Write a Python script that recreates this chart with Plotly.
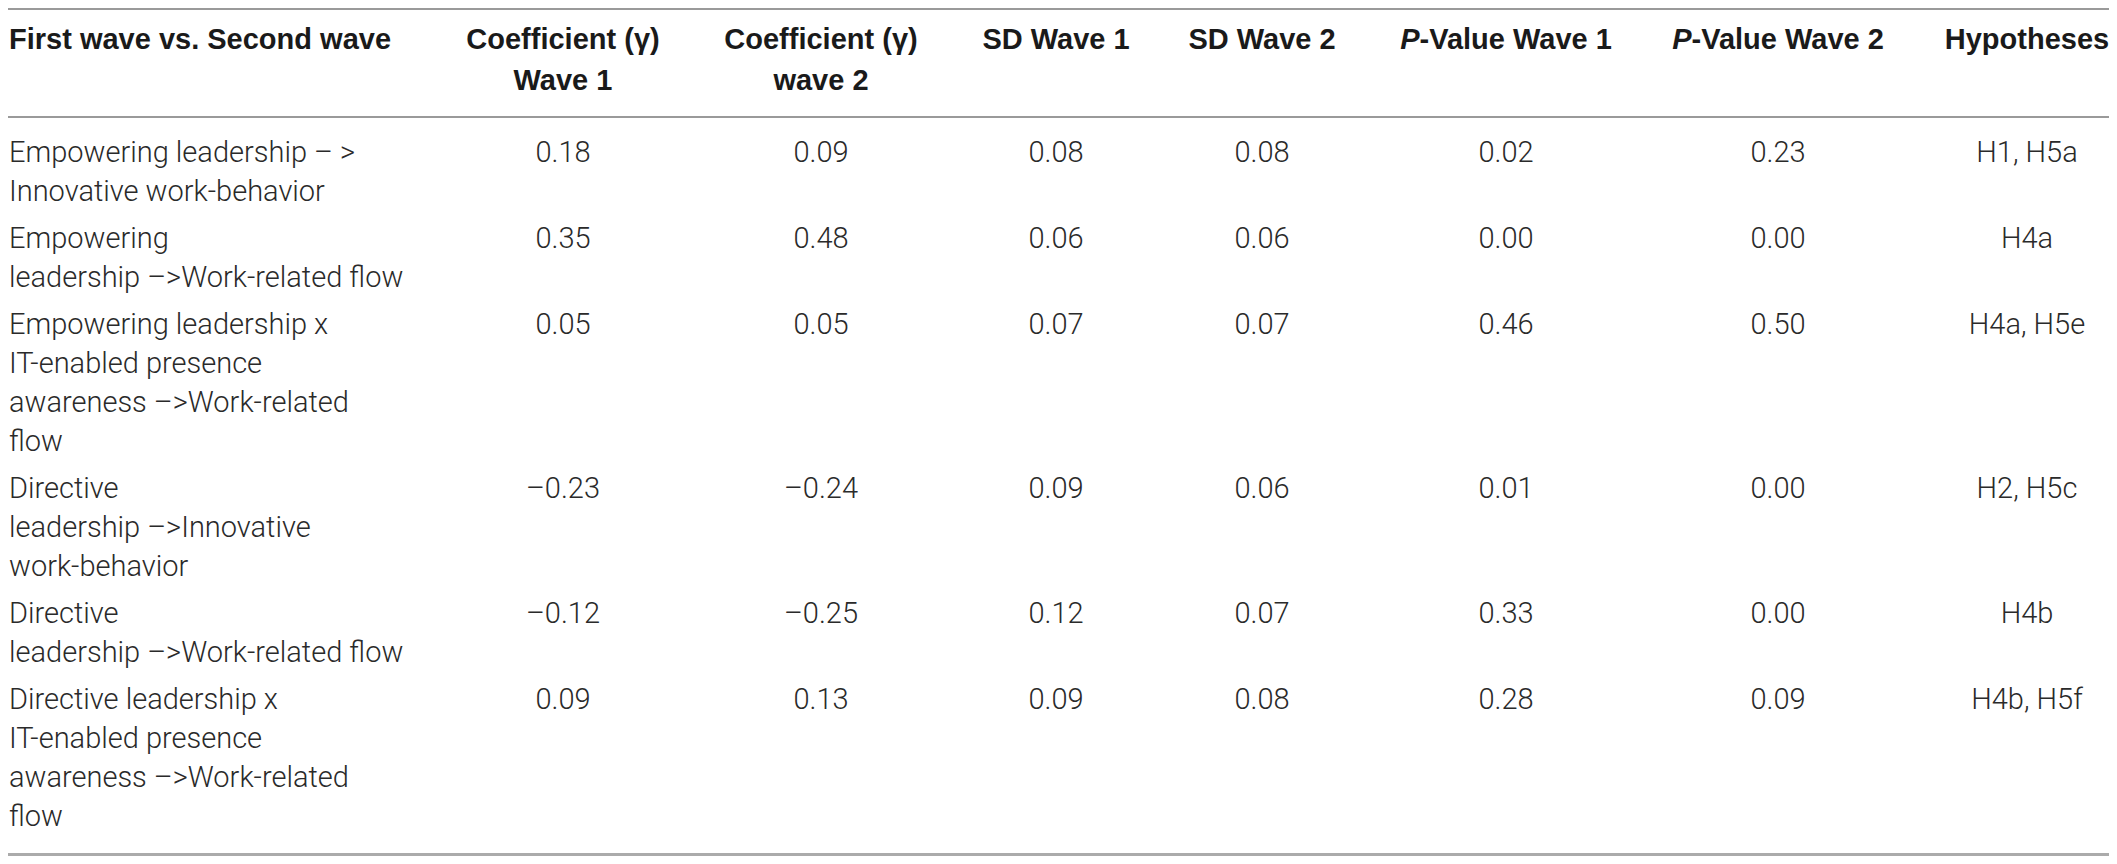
import plotly.graph_objects as go

# table content
header_line1 = ["First wave vs. Second wave", "Coefficient (γ)", "Coefficient (γ)", "SD Wave 1",
                "SD Wave 2", "<i>P</i>-Value Wave 1", "<i>P</i>-Value Wave 2", "Hypotheses"]
header_line2 = ["", "Wave 1", "wave 2", "", "", "", "", ""]

paths = [
    "Empowering leadership – ><br>Innovative work-behavior",
    "Empowering<br>leadership –>Work-related flow",
    "Empowering leadership x<br>IT-enabled presence<br>awareness –>Work-related<br>flow",
    "Directive<br>leadership –>Innovative<br>work-behavior",
    "Directive<br>leadership –>Work-related flow",
    "Directive leadership x<br>IT-enabled presence<br>awareness –>Work-related<br>flow",
]
coef_wave1 = [0.18, 0.35, 0.05, -0.23, -0.12, 0.09]
coef_wave2 = [0.09, 0.48, 0.05, -0.24, -0.25, 0.13]
sd_wave1 = [0.08, 0.06, 0.07, 0.09, 0.12, 0.09]
sd_wave2 = [0.08, 0.06, 0.07, 0.06, 0.07, 0.08]
p_wave1 = [0.02, 0.00, 0.46, 0.01, 0.33, 0.28]
p_wave2 = [0.23, 0.00, 0.50, 0.00, 0.00, 0.09]
hypotheses = ["H1, H5a", "H4a", "H4a, H5e", "H2, H5c", "H4b", "H4b, H5f"]

# the page body keeps an 8px margin, so the figure is 16px smaller than the
# window; the axes are set so one data unit = one figure pixel
W, H = 2117 - 16, 864 - 16

col_x = [1, 555, 813, 1048, 1254, 1498, 1770, 2019]  # column anchors
head_y = [34, 75]
rule_y = [1, 109, 846.5]
first_row_y = 147
pitch = 39   # line pitch inside a cell
row_gap = 8  # extra space between rows

body_font = dict(family="Roboto, Liberation Sans, Arial, sans-serif", size=29, color="#2a2a2a", weight=300)
head_font = dict(family="Liberation Sans, Arial, sans-serif", size=29, color="#1a1a1a")


def fmt(v):
    s = "{:.2f}".format(abs(v))
    return ("–" + s) if v < 0 else s


# y of the first line of every row, from the number of lines in the first column
row_y = []
y = first_row_y
for p in paths:
    row_y.append(y)
    y += len(p.split("<br>")) * pitch + row_gap

fig = go.Figure()

# header
for i, (t1, t2) in enumerate(zip(header_line1, header_line2)):
    xs, ys, ts = [col_x[i]], [head_y[0]], ["<b>" + t1 + "</b>"]
    if t2:
        xs.append(col_x[i]); ys.append(head_y[1]); ts.append("<b>" + t2 + "</b>")
    fig.add_trace(go.Scatter(x=xs, y=ys, text=ts, mode="text", cliponaxis=False,
                             textposition="middle right" if i == 0 else "middle center",
                             textfont=head_font, hoverinfo="skip", showlegend=False))

# first column, one point per text line
xs, ys, ts = [], [], []
for p, y0 in zip(paths, row_y):
    for k, line in enumerate(p.split("<br>")):
        xs.append(col_x[0]); ys.append(y0 + k * pitch); ts.append(line)
fig.add_trace(go.Scatter(x=xs, y=ys, text=ts, mode="text", textposition="middle right",
                         cliponaxis=False, textfont=body_font, hoverinfo="skip", showlegend=False))

# value columns
columns = [
    [fmt(v) for v in coef_wave1],
    [fmt(v) for v in coef_wave2],
    [fmt(v) for v in sd_wave1],
    [fmt(v) for v in sd_wave2],
    [fmt(v) for v in p_wave1],
    [fmt(v) for v in p_wave2],
    hypotheses,
]
for j, col in enumerate(columns):
    fig.add_trace(go.Scatter(x=[col_x[j + 1]] * len(col), y=row_y, text=col, mode="text",
                             textposition="middle center", textfont=body_font, cliponaxis=False,
                             hoverinfo="skip", showlegend=False))

# horizontal rules
for k, ry in enumerate(rule_y):
    last = k == len(rule_y) - 1
    fig.add_shape(type="line", xref="x", yref="y", x0=0, x1=W, y0=ry, y1=ry,
                  line=dict(color="#ababab" if last else "#9a9a9a", width=3 if last else 2))

fig.update_xaxes(range=[0, W], visible=False, fixedrange=True)
fig.update_yaxes(range=[H, 0], visible=False, fixedrange=True)
fig.update_layout(width=W, height=H, margin=dict(l=0, r=0, t=0, b=0),
                  plot_bgcolor="white", paper_bgcolor="white")

fig.write_html("out.html")
